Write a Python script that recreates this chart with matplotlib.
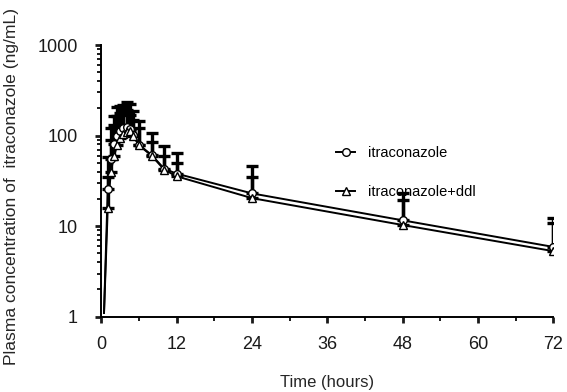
import matplotlib

matplotlib.use("Agg")

import matplotlib.pyplot as plt
import numpy as np
from matplotlib.ticker import FixedLocator, NullFormatter

plt.rcParams["font.family"] = ["Liberation Sans", "DejaVu Sans"]

# sampling times (h); first entry is the rising line from the baseline
times = [0.4, 1, 1.5, 2, 2.5, 3, 3.5, 4, 4.5, 5, 6, 8, 10, 12, 24, 48, 72]

# itraconazole alone (mean, upper end of error bar)
itra_mean = [1.1, 26, 55, 80, 100, 112, 120, 125, 118, 101, 79, 61, 43, 38, 23, 11.6, 5.9]
itra_top = [1.1, 58, 120, 165, 205, 215, 220, 235, 225, 187, 146, 107, 76, 64, 46, 23, 12.2]

# itraconazole + ddI
ddl_mean = [1.1, 16, 40, 60, 78, 95, 105, 110, 112, 100, 78, 60, 42, 35.5, 20.4, 10.3, 5.3]
ddl_top = [1.1, 35, 90, 130, 165, 180, 200, 190, 170, 150, 120, 85, 60, 50, 35, 19.5, 10.8]

x_ticks = [0, 12, 24, 36, 48, 60, 72]
y_ticks = [1, 10, 100, 1000]

fig = plt.figure(figsize=(5.67, 3.92), dpi=100, facecolor="white")
ax = fig.add_axes([0.179, 0.192, 0.797, 0.693])

t = np.array(times)
series = [
    (np.array(itra_mean), np.array(itra_top), "o", "itraconazole"),
    (np.array(ddl_mean), np.array(ddl_top), "^", "itraconazole+ddl"),
]
for mean, top, mk, label in series:
    err = np.vstack([np.zeros_like(mean), top - mean])
    ax.errorbar(t[1:], mean[1:], yerr=err[:, 1:], fmt="none", ecolor="black",
                elinewidth=2.4, capsize=4, capthick=2.4, zorder=2)
    ax.plot(t, mean, color="black", lw=1.4, zorder=3)
    ax.plot(t[1:], mean[1:], ls="none", marker=mk, ms=5.5, mfc="white",
            mec="black", mew=1.0, zorder=4)
    ax.plot([], [], color="black", lw=1.4, marker=mk, ms=5.5, mfc="white",
            mec="black", mew=1.0, label=label)

ax.set_yscale("log")
ax.set_ylim(1, 1000)
ax.set_xlim(0, 72)
ax.set_yticks(y_ticks)
ax.set_yticklabels([str(v) for v in y_ticks])
ax.yaxis.set_minor_locator(FixedLocator([m * 10 ** k for k in range(3) for m in range(2, 10)]))
ax.yaxis.set_minor_formatter(NullFormatter())
ax.set_xticks(x_ticks)
ax.set_xticks(range(6, 72, 12), minor=True)

for side in ("top", "right"):
    ax.spines[side].set_visible(False)
for side in ("left", "bottom"):
    ax.spines[side].set_linewidth(1.4)
ax.tick_params(which="major", length=4, width=2.0, labelsize=13, colors="0.1")
ax.tick_params(which="minor", length=3, width=1.4, colors="0.1")
ax.tick_params(axis="x", which="major", pad=10)
ax.tick_params(axis="y", which="major", pad=13)

ax.set_xlabel("Time (hours)", fontsize=12, labelpad=16, color="0.15")
ax.set_ylabel("Plasma concentration of  itraconazole (ng/mL)", fontsize=12.6,
              color="0.15")
ax.yaxis.set_label_coords(-0.183, 0.48)

ax.legend(loc="upper left", bbox_to_anchor=(0.49, 0.676), frameon=False,
          handlelength=1.3, handletextpad=0.9, labelspacing=1.7, fontsize=10.5)

fig.savefig("out.png", dpi=100, facecolor="white")
